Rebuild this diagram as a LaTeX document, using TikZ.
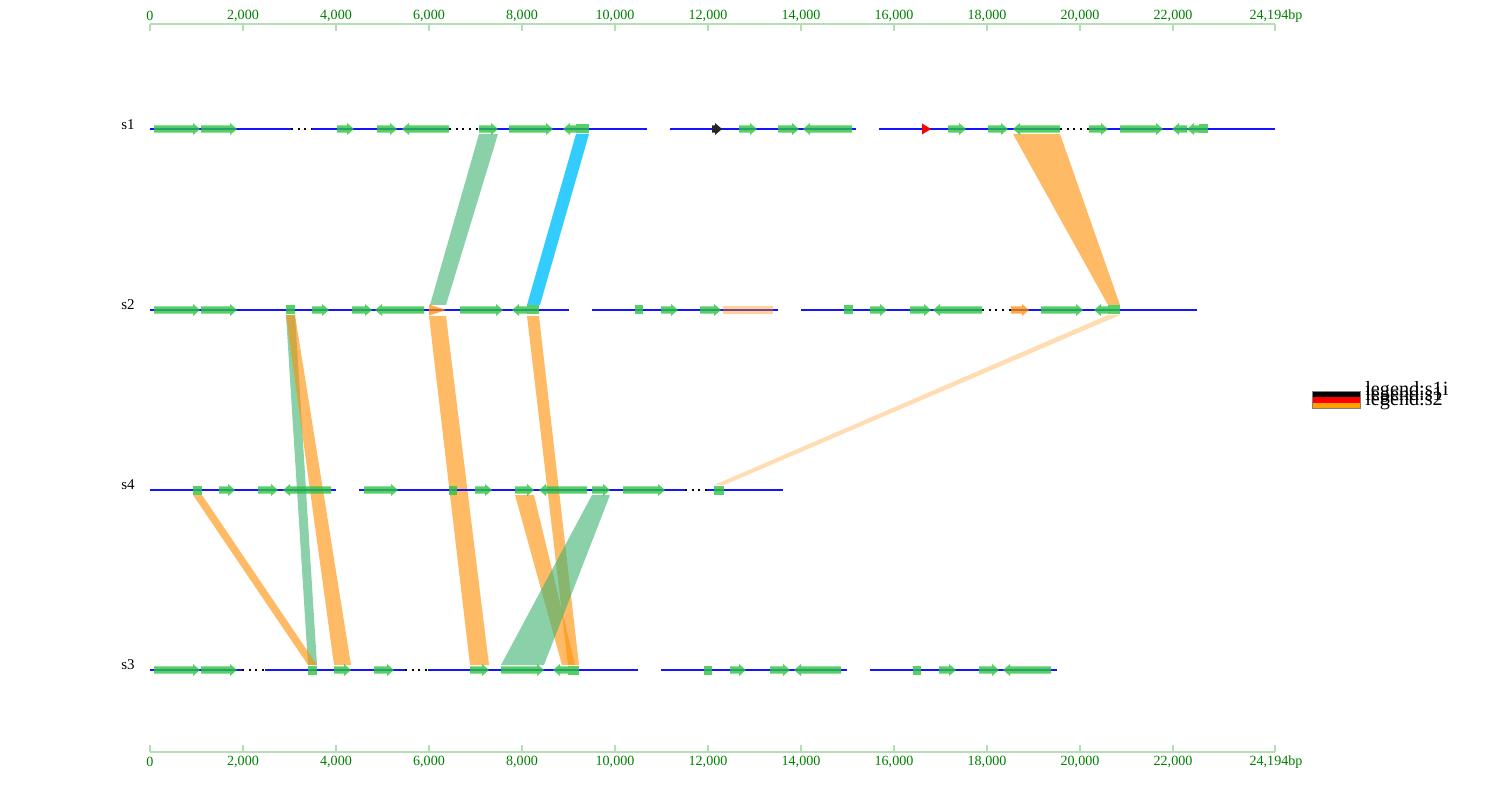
\documentclass[tikz,border=0pt]{standalone}
\usepackage{fontspec}
\setmainfont{Liberation Serif}
\usetikzlibrary{positioning}
\definecolor{trackblue}{RGB}{20,20,255}
\definecolor{genegreen}{RGB}{45,195,65}
\definecolor{axisgreen}{RGB}{0,128,0}
\definecolor{axislight}{RGB}{180,222,180}
\definecolor{linkorange}{RGB}{255,140,0}
\definecolor{linkgreen}{RGB}{60,179,113}
\definecolor{linkblue}{RGB}{0,191,255}
\definecolor{legendorange}{RGB}{255,160,0}
\tikzset{
    track/.style = {draw=trackblue, line width=0.9pt},
    gapline/.style = {draw=black, line width=0.9pt, dash pattern=on 1.2pt off 2.6pt},
    gene/.style = {fill=genegreen, fill opacity=0.8},
    orangegene/.style = {fill=linkorange, fill opacity=0.75},
    greenlink/.style = {fill=linkgreen, fill opacity=0.6},
    orangelink/.style = {fill=linkorange, fill opacity=0.6},
    bluelink/.style = {fill=linkblue, fill opacity=0.8},
    peachlink/.style = {fill=linkorange, fill opacity=0.3},
    axisline/.style = {draw=axislight, line width=1.1pt},
    ticklabel/.style = {text=axisgreen, font=\fontsize{8}{9}\selectfont, inner sep=0pt},
    tracklabel/.style = {font=\fontsize{8.5}{10}\selectfont, inner sep=0pt},
    legendlabel/.style = {font=\fontsize{11.5}{12}\selectfont, inner sep=0pt, anchor=base west}
}
% genes: [style]{from}{to}{y}
\newcommand{\fwdgene}[4][gene]{\fill[#1] (#2,#4-3.6) -- ({max(#2,#3-7)},#4-3.6) -- ({max(#2,#3-7)},#4-6) -- (#3,#4) -- ({max(#2,#3-7)},#4+6) -- ({max(#2,#3-7)},#4+3.6) -- (#2,#4+3.6) -- cycle;}
\newcommand{\revgene}[4][gene]{\fill[#1] (#3,#4-3.6) -- ({min(#3,#2+7)},#4-3.6) -- ({min(#3,#2+7)},#4-6) -- (#2,#4) -- ({min(#3,#2+7)},#4+6) -- ({min(#3,#2+7)},#4+3.6) -- (#3,#4+3.6) -- cycle;}
\newcommand{\genebox}[4][gene]{\fill[#1] (#2,#4-4.5) rectangle (#3,#4+4.5);}
\newcommand{\tipgene}[4][gene]{\fill[#1] (#2,#4-5.5) -- (#3,#4) -- (#2,#4+5.5) -- cycle;}
% ribbons: style, top from/to/y, bottom from/to/y
\newcommand{\ribbon}[7]{\fill[#1] (#2,#4) -- (#3,#4) -- (#6,#7) -- (#5,#7) -- cycle;}

\begin{document}
\begin{tikzpicture}[x=0.02cm, y=-0.02cm]
        \useasboundingbox (0,0) rectangle (1500,800);

        % Ribbons
        \ribbon{greenlink}{479}{498}{134}{430}{446}{305}
        \ribbon{bluelink}{576}{589}{134}{527}{540}{305}
        \ribbon{orangelink}{1013}{1060}{134}{1108}{1120}{305}
        \ribbon{peachlink}{1108}{1120}{315}{714}{724}{485}
        \ribbon{greenlink}{286}{295}{315}{308}{317}{665}
        \ribbon{orangelink}{286}{295}{315}{334}{351}{665}
        \ribbon{orangelink}{429}{446}{316}{470}{489}{665}
        \ribbon{orangelink}{527}{539}{316}{568}{579}{665}
        \ribbon{orangelink}{193}{202}{495}{308}{317}{665}
        \ribbon{orangelink}{515}{534}{495}{562}{575}{665}
        \ribbon{greenlink}{592}{610}{495}{501}{544}{665}

        % Axes
        \draw[axisline] (150,24) -- (1275,24);
        \draw[axisline] (150,752) -- (1275,752);
        \foreach \i/\t in {0/0, 1/{2,000}, 2/{4,000}, 3/{6,000}, 4/{8,000}, 5/{10,000}, 6/{12,000}, 7/{14,000}, 8/{16,000}, 9/{18,000}, 10/{20,000}, 11/{22,000}} {
            \draw[axisline] (150+\i*93,24) -- (150+\i*93,31);
            \draw[axisline] (150+\i*93,745) -- (150+\i*93,752);
            \node[ticklabel] (top\i) at (150+\i*93,16) {\t};
            \node[ticklabel] (bot\i) at (150+\i*93,762) {\t};
        }
        \draw[axisline] (1275,24) -- (1275,31);
        \draw[axisline] (1275,745) -- (1275,752);
        \node[ticklabel] (topend) at (1276,16) {24,194bp};
        \node[ticklabel] (botend) at (1276,762) {24,194bp};

        % Track s1
        \node[tracklabel] (s1) at (128,125) {s1};
        \draw[track] (150,129) -- (291,129);
        \draw[gapline] (291,129) -- (312,129);
        \draw[track] (312,129) -- (449,129);
        \draw[gapline] (449,129) -- (479,129);
        \draw[track] (479,129) -- (647,129);
        \draw[track] (670,129) -- (856,129);
        \draw[track] (879,129) -- (1060,129);
        \draw[gapline] (1060,129) -- (1089,129);
        \draw[track] (1089,129) -- (1275,129);
        \fwdgene{154}{200}{129} \fwdgene{201}{237}{129} \fwdgene{337}{354}{129}
        \fwdgene{377}{397}{129} \revgene{402}{449}{129} \fwdgene{479}{498}{129}
        \fwdgene{509}{553}{129} \revgene{563}{576}{129} \genebox{576}{589}{129}
        \fwdgene[fill=black!85]{712}{722}{129} \fwdgene{739}{757}{129}
        \fwdgene{778}{799}{129} \revgene{803}{852}{129}
        \tipgene[fill=red]{922}{931}{129} \fwdgene{948}{966}{129} \fwdgene{988}{1008}{129}
        \revgene{1013}{1060}{129} \fwdgene{1089}{1108}{129} \fwdgene{1120}{1163}{129}
        \revgene{1172}{1187}{129} \revgene{1187}{1199}{129} \genebox{1199}{1208}{129}

        % Track s2
        \node[tracklabel] (s2) at (128,305) {s2};
        \draw[track] (150,310) -- (569,310);
        \draw[track] (592,310) -- (778,310);
        \draw[track] (801,310) -- (982,310);
        \draw[gapline] (982,310) -- (1011,310);
        \draw[track] (1011,310) -- (1197,310);
        \fwdgene{154}{200}{310} \fwdgene{201}{237}{310} \genebox{286}{295}{310}
        \fwdgene{312}{329}{310} \fwdgene{352}{372}{310} \revgene{375}{424}{310}
        \tipgene[orangegene]{429}{446}{310} \fwdgene{460}{503}{310}
        \revgene{512}{527}{310} \genebox{527}{539}{310}
        \genebox{635}{643}{310} \fwdgene{661}{678}{310} \fwdgene{700}{721}{310}
        \fill[peachlink, fill opacity=0.4] (723,306) rectangle (773,314);
        \genebox{844}{853}{310} \fwdgene{870}{887}{310} \fwdgene{910}{931}{310}
        \revgene{933}{982}{310} \fwdgene[orangegene]{1011}{1029}{310}
        \fwdgene{1041}{1083}{310} \revgene{1094}{1108}{310} \genebox{1108}{1120}{310}

        % Track s4
        \node[tracklabel] (s4) at (128,485) {s4};
        \draw[track] (150,490) -- (336,490);
        \draw[track] (359,490) -- (685,490);
        \draw[gapline] (685,490) -- (707,490);
        \draw[track] (707,490) -- (783,490);
        \genebox{193}{202}{490} \fwdgene{219}{235}{490} \fwdgene{258}{278}{490}
        \revgene{283}{331}{490} \fwdgene{364}{398}{490} \genebox{449}{457}{490}
        \fwdgene{475}{492}{490} \fwdgene{515}{534}{490} \revgene{539}{587}{490}
        \fwdgene{592}{610}{490} \fwdgene{623}{665}{490} \genebox{714}{724}{490}

        % Track s3
        \node[tracklabel] (s3) at (128,665) {s3};
        \draw[track] (150,670) -- (242,670);
        \draw[gapline] (242,670) -- (265,670);
        \draw[track] (265,670) -- (405,670);
        \draw[gapline] (405,670) -- (428,670);
        \draw[track] (428,670) -- (638,670);
        \draw[track] (661,670) -- (847,670);
        \draw[track] (870,670) -- (1057,670);
        \fwdgene{154}{200}{670} \fwdgene{201}{237}{670} \genebox{308}{317}{670}
        \fwdgene{334}{351}{670} \fwdgene{374}{394}{670} \fwdgene{470}{489}{670}
        \fwdgene{501}{544}{670} \revgene{553}{568}{670} \genebox{568}{579}{670}
        \genebox{704}{712}{670} \fwdgene{730}{746}{670} \fwdgene{770}{790}{670}
        \revgene{794}{841}{670} \genebox{913}{921}{670} \fwdgene{939}{956}{670}
        \fwdgene{979}{999}{670} \revgene{1003}{1051}{670}

        % Legend
        \fill[black] (1312,391) rectangle (1360,397);
        \fill[red] (1312,397) rectangle (1360,402.5);
        \fill[legendorange] (1312,402.5) rectangle (1360,408);
        \draw[gray, line width=0.4pt] (1312,391) rectangle (1360,408);
        \node[legendlabel] (leg1) at (1365,395) {legend:s1i};
        \node[legendlabel] (leg2) at (1365,400) {legend:s1};
        \node[legendlabel] (leg3) at (1365,405) {legend:s2};
    \end{tikzpicture}
\end{document}
